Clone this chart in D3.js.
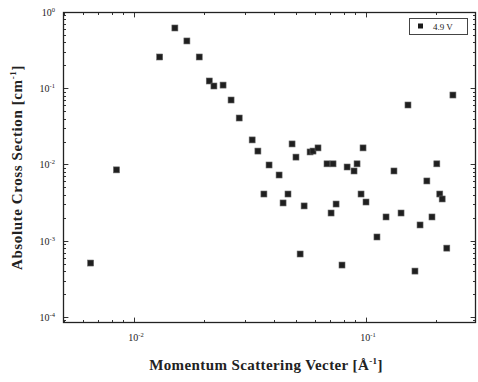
<!DOCTYPE html>
<html>
<head>
<meta charset="utf-8">
<script src="https://cdn.jsdelivr.net/npm/d3@7"></script>
<style>
  html, body { margin: 0; padding: 0; background: #fff; }
  svg { display: block; }
  text { font-family: "Liberation Serif", "DejaVu Serif", serif; fill: #222; }
</style>
</head>
<body>
<div id="chart"></div>
<script>
// values (q in 1/Å, cross section in 1/cm)
var qVals = [0.0065, 0.0084, 0.0129, 0.0150, 0.0169, 0.0191, 0.0211, 0.0221, 0.0242, 0.0262,
  0.0284, 0.0323, 0.0342, 0.0382, 0.0422, 0.0363, 0.0461, 0.0439, 0.0480, 0.0499,
  0.0541, 0.0520, 0.0574, 0.0591, 0.0621, 0.0679, 0.0721, 0.0743, 0.0707, 0.0788,
  0.0829, 0.0888, 0.0915, 0.0971, 0.0952, 0.100, 0.1115, 0.122, 0.132, 0.1416,
  0.1517, 0.1626, 0.171, 0.183, 0.1925, 0.202, 0.208, 0.213, 0.223, 0.237];
var csVals = [5.1e-4, 8.5e-3, 0.257, 0.617, 0.417, 0.257, 0.1245, 0.107, 0.110, 0.0701,
  0.0407, 0.0210, 0.0150, 0.00985, 0.00728, 0.0041, 0.0041, 0.00313, 0.0186, 0.0125,
  0.00286, 6.7e-4, 0.0146, 0.0150, 0.0165, 0.0102, 0.0102, 0.00303, 0.00231, 4.8e-4,
  0.00927, 0.00822, 0.0102, 0.0165, 0.0041, 0.00322, 0.00112, 0.00205, 0.00822, 0.00231,
  0.0603, 4.0e-4, 0.00161, 0.00608, 0.00205, 0.0102, 0.0041, 0.00353, 8.0e-4, 0.0815];
var seriesName = '4.9 V';
var xMajor = [0.01, 0.1], xMajorExp = ['-2', '-1'];
var yMajor = [1, 0.1, 0.01, 0.001, 0.0001], yMajorExp = ['0', '-1', '-2', '-3', '-4'];

var W = 478, H = 382;
var m = { l: 63, t: 12, r: 2, b: 59 };
var svg = d3.select('#chart').append('svg').attr('width', W).attr('height', H);
var x = d3.scaleLog().domain([0.00494, 0.298]).range([m.l, W - m.r]);
var y = d3.scaleLog().domain([8.34e-5, 1]).range([H - m.b, m.t]);

// minor tick values (2..9 per decade)
function minors(sc) {
  var d = sc.domain(), out = [];
  for (var e = Math.floor(Math.log10(d[0])); e <= Math.ceil(Math.log10(d[1])); e++)
    for (var k = 1; k <= 9; k++) {
      var v = k * Math.pow(10, e);
      if (v >= d[0] && v <= d[1]) out.push(v);
    }
  return out;
}
var xMin = minors(x), yMin = minors(y);
var gAx = svg.append('g').attr('stroke', '#333').attr('stroke-width', 1);
function ticks(vals, sc, horiz, len) {
  vals.forEach(function (v) {
    var p = Math.round(sc(v)) + 0.5;
    var isMajor = Math.abs(Math.log10(v) - Math.round(Math.log10(v))) < 1e-9;
    var L = isMajor ? len * 1.8 : len;
    if (horiz) {
      gAx.append('line').attr('x1', p).attr('x2', p).attr('y1', H - m.b).attr('y2', H - m.b - L);
      gAx.append('line').attr('x1', p).attr('x2', p).attr('y1', m.t).attr('y2', m.t + L);
    } else {
      gAx.append('line').attr('y1', p).attr('y2', p).attr('x1', m.l).attr('x2', m.l + L);
      gAx.append('line').attr('y1', p).attr('y2', p).attr('x1', W - m.r).attr('x2', W - m.r - L);
    }
  });
}
ticks(xMin, x, true, 3);
ticks(yMin, y, false, 3);
svg.append('rect').attr('x', m.l + 0.5).attr('y', m.t + 0.5)
  .attr('width', W - m.l - m.r - 1).attr('height', H - m.t - m.b - 1)
  .attr('fill', 'none').attr('stroke', '#222').attr('stroke-width', 1.3);

// tick labels 10^n
function powLabel(g, px, py, exp, anchor) {
  var t = g.append('text').attr('x', px).attr('y', py).attr('font-size', 10).attr('text-anchor', anchor);
  t.append('tspan').text('10');
  t.append('tspan').attr('font-size', 6.5).attr('dy', -4).text(exp);
}
var gL = svg.append('g');
xMajor.forEach(function (v, i) { powLabel(gL, x(v) + 2, H - m.b + 18, xMajorExp[i], 'middle'); });
yMajor.forEach(function (v, i) { powLabel(gL, m.l - 8, y(v) + 4, yMajorExp[i], 'end'); });

// points
svg.append('g').selectAll('rect').data(qVals).enter().append('rect')
  .attr('x', function (d) { return x(d) - 3; })
  .attr('y', function (d, i) { return y(csVals[i]) - 3; })
  .attr('width', 6).attr('height', 6)
  .attr('fill', '#1f1f1f').attr('stroke', '#666').attr('stroke-width', 0.6);

// legend
var lg = svg.append('g');
lg.append('rect').attr('x', 409.5).attr('y', 18.5).attr('width', 58).attr('height', 16)
  .attr('fill', '#fff').attr('stroke', '#444').attr('stroke-width', 1);
lg.append('rect').attr('x', 418).attr('y', 23.5).attr('width', 5).attr('height', 5).attr('fill', '#1a1a1a');
lg.append('text').attr('x', 433).attr('y', 30).attr('font-size', 9).text(seriesName);

// axis titles
var xt = svg.append('text').attr('x', 266).attr('y', 370).attr('text-anchor', 'middle')
  .attr('font-size', 15).attr('font-weight', 'bold').attr('letter-spacing', 0.4);
xt.append('tspan').text('Momentum Scattering Vecter [Å');
xt.append('tspan').attr('font-size', 9).attr('dy', -6).text('-1');
xt.append('tspan').attr('dy', 6).text(']');

var yt = svg.append('text').attr('transform', 'translate(22,' + ((m.t + H - m.b) / 2) + ') rotate(-90)')
  .attr('text-anchor', 'middle').attr('font-size', 15).attr('font-weight', 'bold').attr('letter-spacing', 0.6);
yt.append('tspan').text('Absolute Cross Section [cm');
yt.append('tspan').attr('font-size', 9).attr('dy', -6).text('-1');
yt.append('tspan').attr('dy', 6).text(']');
</script>
</body>
</html>
